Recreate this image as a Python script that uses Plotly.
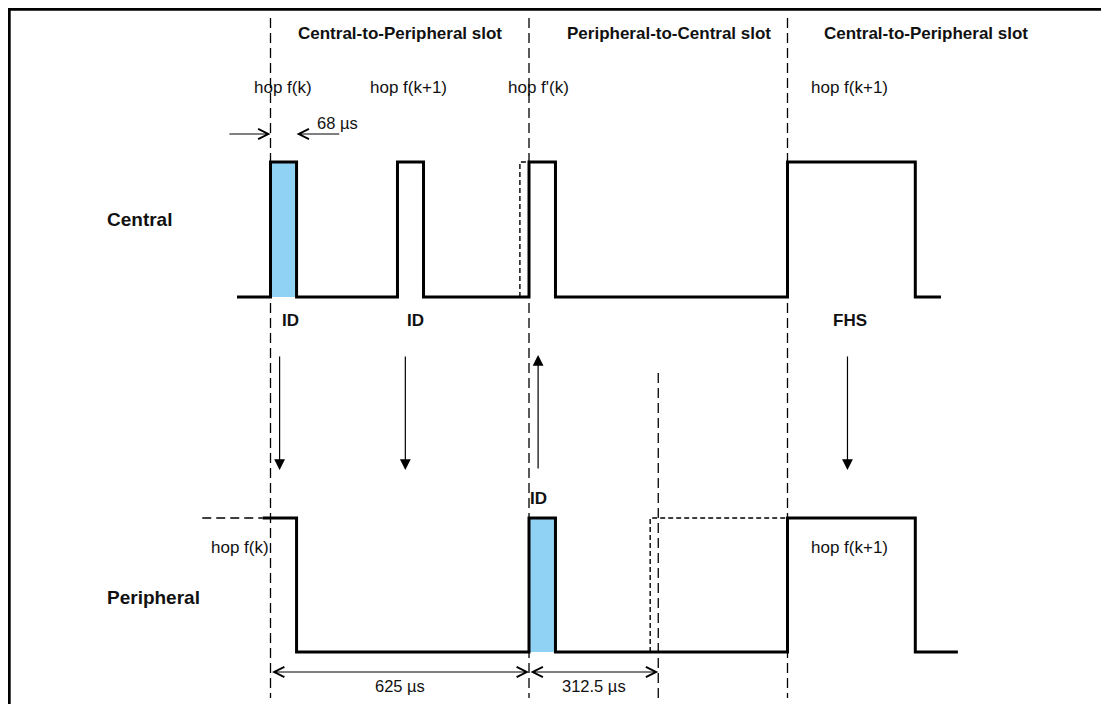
import plotly.graph_objects as go

# ---------------- data (time in microseconds) ----------------
slot_boundaries_us = [0, 625, 1250]          # slot edges (long dashed)
half_slot_marks_us = [937.5]                 # half-slot mark (short dashed)
slot_titles = ["Central-to-Peripheral slot", "Peripheral-to-Central slot", "Central-to-Peripheral slot"]
slot_title_us = [312.5, 964, 1584]

# Central waveform (level 0 = idle, 1 = transmitting)
central_t = [-81, 0, 0, 63, 63, 307, 307, 370, 370, 625, 625, 689, 689, 1250, 1250, 1559, 1559, 1621]
central_lvl = [0, 0, 1, 1, 0, 0, 1, 1, 0, 0, 1, 1, 0, 0, 1, 1, 0, 0]
central_early_t = [603, 603, 625]            # dashed early-rise (uncertainty)
central_early_lvl = [0, 1, 1]
central_fill_us = [(0, 63)]

# Peripheral waveform
peripheral_lead_t = [-165, -19]              # dashed lead-in
peripheral_lead_lvl = [1, 1]
peripheral_t = [-19, 63, 63, 625, 625, 689, 689, 1250, 1250, 1559, 1559, 1662]
peripheral_lvl = [1, 1, 0, 0, 1, 1, 0, 0, 1, 1, 0, 0]
peripheral_window_t = [918, 918, 1250]       # dashed response window
peripheral_window_lvl = [0, 1, 1]
peripheral_fill_us = [(625, 689)]

# transfer arrows (time, direction)
arrow_t = [22, 326, 647, 1395]
arrow_dir = ["down", "down", "up", "down"]

# labels
central_hop_labels = ["hop f(k)", "hop f(k+1)", "hop f'(k)", "hop f(k+1)"]
central_hop_us = [31, 334, 647, 1399]
packet_labels = ["ID", "ID", "FHS"]
packet_us = [48, 351, 1400]
peripheral_packet_label = "ID"
peripheral_packet_us = 649
peripheral_hop_labels = ["hop f(k)", "hop f(k+1)"]
peripheral_hop_us = [-73, 1400]
id_len_label = "68 µs"
slot_label = "625 µs"
half_slot_label = "312.5 µs"
id_len_us = 63
slot_us = 625
half_slot_us = 312.5

# ---------------- layout constants (pixels) ----------------
OFF = 8                       # page margin offset
W, H = 1109 - OFF, 704 - OFF
PX_PER_US = 517 / 1250
X0 = (OFF - 270.5) / PX_PER_US
X1 = (1109 - 270.5) / PX_PER_US
C_LOW, C_HIGH = 297, 162
P_LOW, P_HIGH = 652, 518
BLUE = "#8fd2f3"
FONT = "Liberation Sans, Arial, sans-serif"


def cy(l):
    return C_LOW - l * (C_LOW - C_HIGH)


def py(l):
    return P_LOW - l * (P_LOW - P_HIGH)


fig = go.Figure()

# filled packets
for a, b in central_fill_us:
    fig.add_trace(go.Scatter(x=[a, a, b, b, a], y=[cy(0), cy(1), cy(1), cy(0), cy(0)],
                             fill="toself", fillcolor=BLUE, line=dict(width=0),
                             mode="lines", hoverinfo="skip"))
for a, b in peripheral_fill_us:
    fig.add_trace(go.Scatter(x=[a, a, b, b, a], y=[py(0), py(1), py(1), py(0), py(0)],
                             fill="toself", fillcolor=BLUE, line=dict(width=0),
                             mode="lines", hoverinfo="skip"))

# slot boundaries
for t in slot_boundaries_us:
    fig.add_trace(go.Scatter(x=[t, t], y=[18, 698], mode="lines",
                             line=dict(color="#000", width=1.3, dash="10px,5px"), hoverinfo="skip"))
for t in half_slot_marks_us:
    fig.add_trace(go.Scatter(x=[t, t], y=[373, 698], mode="lines",
                             line=dict(color="#000", width=1.3, dash="10px,5px"), hoverinfo="skip"))

# dashed uncertainty lines
fig.add_trace(go.Scatter(x=central_early_t, y=[cy(v) for v in central_early_lvl], mode="lines",
                         line=dict(color="#000", width=1.4, dash="5px,3px"), hoverinfo="skip"))
fig.add_trace(go.Scatter(x=peripheral_lead_t, y=[py(v) for v in peripheral_lead_lvl], mode="lines",
                         line=dict(color="#000", width=1.4, dash="9px,5px"), hoverinfo="skip"))
fig.add_trace(go.Scatter(x=peripheral_window_t, y=[py(v) for v in peripheral_window_lvl], mode="lines",
                         line=dict(color="#000", width=1.4, dash="5px,3px"), hoverinfo="skip"))

# waveforms
fig.add_trace(go.Scatter(x=central_t, y=[cy(v) for v in central_lvl], mode="lines",
                         line=dict(color="#000", width=3), hoverinfo="skip"))
fig.add_trace(go.Scatter(x=peripheral_t, y=[py(v) for v in peripheral_lvl], mode="lines",
                         line=dict(color="#000", width=3), hoverinfo="skip"))

ann = []


def text(x, y, s, size=17, bold=False, xanchor="center"):
    ann.append(dict(x=x, y=y, xref="x", yref="y", text=("<b>%s</b>" % s) if bold else s,
                    showarrow=False, xanchor=xanchor, yanchor="middle",
                    font=dict(family=FONT, size=size, color="#111")))


for s, x in zip(slot_titles, slot_title_us):
    text(x, 33, s, size=17, bold=True)
for s, x in zip(central_hop_labels, central_hop_us):
    text(x, 87, s, size=17)
text(id_len_us + 100, 123, id_len_label, size=16.5)
text((105 - 270.5) / PX_PER_US, 219, "Central", size=19, bold=True, xanchor="left")
text((105 - 270.5) / PX_PER_US, 597, "Peripheral", size=19, bold=True, xanchor="left")
for s, x in zip(packet_labels, packet_us):
    text(x, 320, s, size=17, bold=True)
text(peripheral_packet_us, 498, peripheral_packet_label, size=17, bold=True)
for s, x in zip(peripheral_hop_labels, peripheral_hop_us):
    text(x, 547, s, size=17)
text(slot_us / 2, 686, slot_label, size=16.5)
text(slot_us + half_slot_us / 2, 686, half_slot_label, size=16.5)

# transfer arrows
for t, d in zip(arrow_t, arrow_dir):
    top, bot = 355, 470
    head, tail = (bot, top) if d == "down" else (top, bot)
    ann.append(dict(x=t, y=head, ax=t, ay=tail, xref="x", yref="y", axref="x", ayref="y",
                    text="", showarrow=True, arrowhead=2, arrowsize=1.8, arrowwidth=1.2,
                    arrowcolor="#000"))

# 68 µs pointer arrows
ann.append(dict(x=0, y=134, ax=-103, ay=134, xref="x", yref="y", axref="x", ayref="y",
                text="", showarrow=True, arrowhead=5, arrowsize=2, arrowwidth=1, arrowcolor="#000"))
ann.append(dict(x=id_len_us, y=134, ax=id_len_us + 107, ay=134, xref="x", yref="y", axref="x", ayref="y",
                text="", showarrow=True, arrowhead=5, arrowsize=2, arrowwidth=1, arrowcolor="#000"))

# dimension lines
for a, b in [(0, slot_us), (slot_us, slot_us + half_slot_us)]:
    ann.append(dict(x=b, y=672, ax=a, ay=672, xref="x", yref="y", axref="x", ayref="y",
                    text="", showarrow=True, arrowside="end+start",
                    arrowhead=5, startarrowhead=5, arrowsize=2, startarrowsize=2,
                    arrowwidth=1, arrowcolor="#000"))

shapes = [
    dict(type="line", xref="paper", yref="paper", x0=0, x1=1, y0=1 - 1.2 / H, y1=1 - 1.2 / H,
         line=dict(color="#000", width=3)),
    dict(type="line", xref="paper", yref="paper", x0=1.2 / W, x1=1.2 / W, y0=0, y1=1,
         line=dict(color="#000", width=3)),
]

fig.update_layout(
    width=W, height=H, margin=dict(l=0, r=0, t=0, b=0),
    paper_bgcolor="white", plot_bgcolor="white", showlegend=False,
    xaxis=dict(range=[X0, X1], visible=False, fixedrange=True),
    yaxis=dict(range=[704, OFF], visible=False, fixedrange=True),
    annotations=ann, shapes=shapes,
)

fig.write_html("out.html")
